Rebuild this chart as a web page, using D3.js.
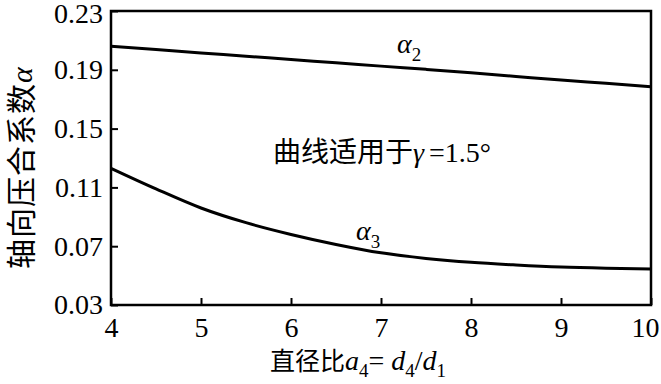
<!DOCTYPE html>
<html>
<head>
<meta charset="utf-8">
<script src="https://cdn.jsdelivr.net/npm/d3@7"></script>
<style>
  body { margin: 0; background: #fff; }
  svg { display: block; }
</style>
</head>
<body>
<script>
// data
const ratio  = [4, 4.5, 5, 5.5, 6, 6.5, 7, 7.5, 8, 8.5, 9, 9.5, 10];
const alpha2 = [0.2060, 0.2038, 0.2015, 0.1993, 0.1970, 0.1948, 0.1925, 0.1903, 0.1880, 0.1855, 0.1830, 0.1808, 0.1785];
const alpha3 = [0.1230, 0.1090, 0.0960, 0.0860, 0.0780, 0.0712, 0.0655, 0.0617, 0.0590, 0.0572, 0.0558, 0.0550, 0.0545];
const xTicks = [4, 5, 6, 7, 8, 9, 10];
const yTicks = [0.03, 0.07, 0.11, 0.15, 0.19, 0.23];

const width = 661, height = 384;
const margin = {left: 111, top: 11, right: 10, bottom: 79};
const serif = "Liberation Serif";
const cjk = "Noto Sans CJK SC";

const svg = d3.select("body").append("svg")
  .attr("width", width)
  .attr("height", height);

const x = d3.scaleLinear().domain([4, 10]).range([margin.left, width - margin.right]);
const y = d3.scaleLinear().domain([0.03, 0.23]).range([height - margin.bottom, margin.top]);

// axes, ticks pointing inward
const xAxis = svg.append("g")
  .attr("transform", "translate(0," + y(0.03) + ")")
  .call(d3.axisBottom(x).tickValues(xTicks).tickSize(-7).tickPadding(12).tickFormat(d3.format("d")));

const yAxis = svg.append("g")
  .attr("transform", "translate(" + x(4) + ",0)")
  .call(d3.axisLeft(y).tickValues(yTicks).tickSize(-7).tickPadding(8).tickFormat(d3.format(".2f")));

[xAxis, yAxis].forEach(g => {
  g.select(".domain").remove();
  g.selectAll(".tick line").attr("stroke", "#000").attr("stroke-width", 2);
  g.selectAll(".tick text")
    .attr("fill", "#000")
    .style("font-family", serif)
    .style("font-size", "28px");
});
// last x label sits against the right edge
xAxis.selectAll(".tick text").filter(d => d === 10).attr("dx", -6);
yAxis.selectAll(".tick text").filter(d => d === 0.23).attr("dy", "0.4em");

// frame
svg.append("rect")
  .attr("x", x(4)).attr("y", y(0.23))
  .attr("width", x(10) - x(4)).attr("height", y(0.03) - y(0.23))
  .attr("fill", "none").attr("stroke", "#000").attr("stroke-width", 2.5);

// curves
const line = d3.line().curve(d3.curveMonotoneX)
  .x((d, i) => x(ratio[i]))
  .y(d => y(d));

[alpha2, alpha3].forEach(s => {
  svg.append("path")
    .datum(s)
    .attr("d", line)
    .attr("fill", "none")
    .attr("stroke", "#000")
    .attr("stroke-width", 3);
});

// curve labels
function alphaLabel(px, py, sub) {
  const t = svg.append("text")
    .attr("x", px).attr("y", py)
    .style("font-family", serif)
    .style("font-size", "28px");
  t.append("tspan").style("font-style", "italic").text("α");
  t.append("tspan").attr("dy", 8).style("font-size", "19px").text(sub);
}
alphaLabel(397, 53, "2");
alphaLabel(356, 240, "3");

// note
const note = svg.append("text")
  .attr("x", 273).attr("y", 162)
  .style("font-family", serif)
  .style("font-size", "28px");
note.append("tspan").style("font-family", cjk).text("曲线适用于");
note.append("tspan").style("font-style", "italic").text("γ");
note.append("tspan").attr("dx", 5).text("=1.5°");

// x title
const xt = svg.append("text")
  .attr("x", 270).attr("y", 370)
  .style("font-family", serif)
  .style("font-size", "28px");
xt.append("tspan").style("font-family", cjk).style("font-size", "25px").text("直径比");
xt.append("tspan").style("font-style", "italic").text("a");
xt.append("tspan").attr("dy", 7).style("font-size", "19px").text("4");
xt.append("tspan").attr("dy", -7).text("= ");
xt.append("tspan").style("font-style", "italic").text("d");
xt.append("tspan").attr("dy", 7).style("font-size", "19px").text("4");
xt.append("tspan").attr("dy", -7).text("/");
xt.append("tspan").style("font-style", "italic").text("d");
xt.append("tspan").attr("dy", 7).style("font-size", "19px").text("1");

// y title
const yt = svg.append("text")
  .attr("transform", "translate(32,168) rotate(-90)")
  .attr("text-anchor", "middle")
  .style("font-family", serif)
  .style("font-size", "30px");
yt.append("tspan").style("font-family", cjk).attr("letter-spacing", 1).text("轴向压合系数");
yt.append("tspan").style("font-style", "italic").text("α");
</script>
</body>
</html>
